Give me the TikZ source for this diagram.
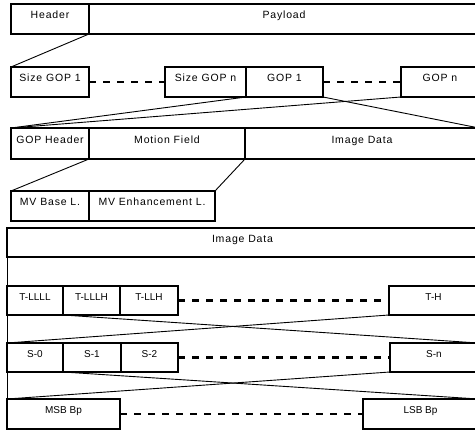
\documentclass[tikz,border=0pt]{standalone}
\usepackage{fontspec}
\setmainfont{Liberation Sans}
\newfontfamily\widefont{Liberation Sans}[LetterSpace=8]
\usetikzlibrary{positioning}

\begin{document}
\begin{tikzpicture}[
		x=1pt, y=-1pt,
		field/.style={
			draw,
			line width=2.9pt,
			outer sep=0pt,
			inner sep=0pt,
			text height=0pt,
			text depth=0pt,
			minimum height=30pt
		},
		upper/.style={field, font=\widefont\fontsize{10.5}{12}\selectfont},
		lower/.style={field, font=\fontsize{10}{12}\selectfont},
		link/.style={line width=0.9pt},
		gap/.style={line width=2.9pt, dash pattern=on 7pt off 7pt}
		]
		
		\useasboundingbox (0,0) rectangle (475,430);
		\fill[white] (0,0) rectangle (475,430);
		\clip (0,0) rectangle (475,430);
		
		% stream
		\node[upper, minimum width=78pt, anchor=north west] (header) at (11,4) {Header};
		\node[upper, minimum width=390pt, right=0pt of header] (payload) {Payload};
		
		% GOP sizes and GOPs
		\node[upper, minimum width=78pt, anchor=north west] (sizegop1) at (11,67) {Size GOP 1};
		\node[upper, minimum width=81pt, right=76pt of sizegop1] (sizegopn) {Size GOP n};
		\node[upper, minimum width=77pt, right=0pt of sizegopn] (gop1) {GOP 1};
		\node[upper, minimum width=78pt, right=78pt of gop1] (gopn) {GOP n};
		
		% one GOP
		\node[upper, minimum width=78pt, minimum height=31pt, anchor=north west] (gophead) at (11,128) {GOP Header};
		\node[upper, minimum width=156pt, minimum height=31pt, right=0pt of gophead] (motion) {Motion Field};
		\node[upper, minimum width=234pt, minimum height=31pt, right=0pt of motion] (imgdata) {Image Data};
		
		% motion layers
		\node[upper, minimum width=78pt, anchor=north west] (mvbase) at (11,191) {MV Base L.};
		\node[upper, minimum width=126pt, right=0pt of mvbase] (mvenh) {MV Enhancement L.};
		
		% image data
		\node[upper, minimum width=471pt, minimum height=29pt, anchor=north west] (imgfull) at (7,228) {Image Data};
		
		\node[lower, minimum width=56pt, minimum height=29pt, anchor=north west] (tllll) at (7,286) {T-LLLL};
		\node[lower, minimum width=57pt, minimum height=29pt, right=0pt of tllll] (tlllh) {T-LLLH};
		\node[lower, minimum width=58pt, minimum height=29pt, right=0pt of tlllh] (tllh) {T-LLH};
		\node[lower, minimum width=89pt, minimum height=29pt, right=211pt of tllh] (th) {T-H};
		
		\node[lower, minimum width=56pt, minimum height=29pt, anchor=north west] (s0) at (7,343) {S-0};
		\node[lower, minimum width=58pt, minimum height=29pt, right=0pt of s0] (s1) {S-1};
		\node[lower, minimum width=57pt, minimum height=29pt, right=0pt of s1] (s2) {S-2};
		\node[lower, minimum width=88pt, minimum height=29pt, right=212pt of s2] (sn) {S-n};
		
		\node[lower, minimum width=113pt, anchor=north west] (msb) at (7,399) {MSB Bp};
		\node[lower, minimum width=115pt, right=243pt of msb] (lsb) {LSB Bp};
		
		% gaps
		\draw[gap] (sizegop1) -- (sizegopn);
		\draw[gap] (gop1) -- (gopn);
		\draw[gap] (tllh) -- (th);
		\draw[gap] (s2) -- (sn);
		\draw[gap] (msb) -- (lsb);
		
		% expansions
		\draw[link] (header.south east) -- (sizegop1.north west);
		\draw[link] (gop1.south west) -- (gophead.north west);
		\draw[link] (gopn.south west) -- (gophead.north west);
		\draw[link] (gop1.south east) -- (imgdata.north east);
		\draw[link] (gophead.south east) -- (mvbase.north west);
		\draw[link] (motion.south east) -- (mvenh.north east);
		\draw[link] (imgfull.south west) -- (tllll.north west);
		\draw[link] (tllll.south west) -- (s0.north west);
		\draw[link] (tllll.south east) -- (sn.north east);
		\draw[link] (th.south west) -- (s0.north west);
		\draw[link] (s0.south west) -- (msb.north west);
		\draw[link] (s0.south east) -- (lsb.north east);
		\draw[link] (sn.south west) -- (msb.north west);
		
	\end{tikzpicture}
\end{document}
